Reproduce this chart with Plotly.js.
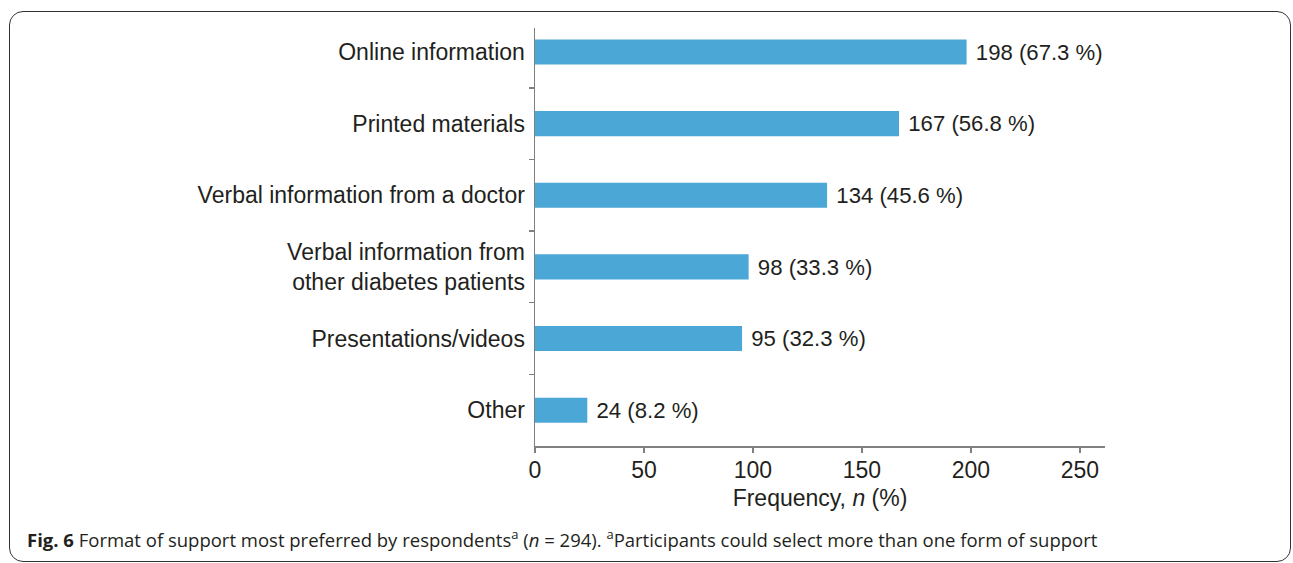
<!DOCTYPE html>
<html>
<head>
<meta charset="utf-8">
<script src="https://cdn.plot.ly/plotly-3.0.1.min.js"></script>
<style>
  html, body { margin: 0; padding: 0; background: #fff; }
  #wrap { position: relative; width: 1293px; height: 563px; overflow: hidden; }
  #frame { position: absolute; left: 9px; top: 11px; width: 1282px; height: 551px;
           border: 1.5px solid #333; border-radius: 14px; box-sizing: border-box; pointer-events: none; }
  #chart { position: absolute; left: 0; top: 0; width: 1293px; height: 563px; }
</style>
</head>
<body>
<div id="wrap">
  <div id="chart"></div>
  <div id="frame"></div>
</div>
<script>
const categories = [
  "Online information",
  "Printed materials",
  "Verbal information from a doctor",
  "Verbal information from<br>other diabetes patients",
  "Presentations/videos",
  "Other"
];
const counts = [198, 167, 134, 98, 95, 24];
const percents = [67.3, 56.8, 45.6, 33.3, 32.3, 8.2];
const xTicks = [0, 50, 100, 150, 200, 250];

const labels = counts.map((c, i) => "\u00a0" + c + " (" + percents[i].toFixed(1) + " %)");

const trace = {
  type: "bar",
  orientation: "h",
  x: counts,
  y: categories,
  text: labels,
  textposition: "outside",
  cliponaxis: false,
  textfont: { family: "Liberation Sans, Arial, sans-serif", size: 23, color: "#231f20" },
  marker: { color: "#4ba7d5" },
  width: 0.35,
  hoverinfo: "none"
};

const axisColor = "#808080";
const layout = {
  width: 1293,
  height: 563,
  margin: { l: 535, r: 188, t: 28, b: 117, pad: 0 },
  paper_bgcolor: "#fff",
  plot_bgcolor: "#fff",
  showlegend: false,
  font: { family: "Liberation Sans, Arial, sans-serif", size: 23, color: "#231f20" },
  xaxis: {
    range: [0, 261.5],
    tickvals: xTicks,
    ticktext: xTicks.map(String),
    showgrid: false,
    zeroline: false,
    showline: true,
    linecolor: axisColor,
    linewidth: 1.5,
    ticks: "outside",
    ticklen: 5,
    tickwidth: 1.5,
    tickcolor: axisColor,
    tickfont: { size: 23, color: "#231f20" },
    ticklabelstandoff: -2,
    title: { text: "Frequency, <i>n</i> (%)", font: { size: 23, color: "#231f20" }, standoff: 8 }
  },
  yaxis: {
    type: "category",
    categoryorder: "array",
    categoryarray: categories,
    range: [5.5, -0.335],
    showgrid: false,
    zeroline: false,
    showline: true,
    linecolor: axisColor,
    linewidth: 1.5,
    ticks: "outside",
    tickson: "boundaries",
    ticklen: 5,
    tickwidth: 1.5,
    tickcolor: axisColor,
    tickfont: { size: 23, color: "#231f20" },
    ticklabelstandoff: 4
  },
  annotations: [{
    xref: "paper", yref: "paper",
    x: (25 - 535) / 570, y: (446 - 538) / 418,
    xanchor: "left", yanchor: "middle",
    showarrow: false,
    align: "left",
    text: "<b>Fig. 6</b> Format of support most preferred by respondents<sup>a</sup> (<i>n</i> = 294). <sup>a</sup>Participants could select more than one form of support",
    font: { family: "Open Sans, Noto Sans, sans-serif", size: 18.5, color: "#231f20" }
  }]
};

Plotly.newPlot("chart", [trace], layout, { displayModeBar: false, staticPlot: true });
</script>
</body>
</html>
